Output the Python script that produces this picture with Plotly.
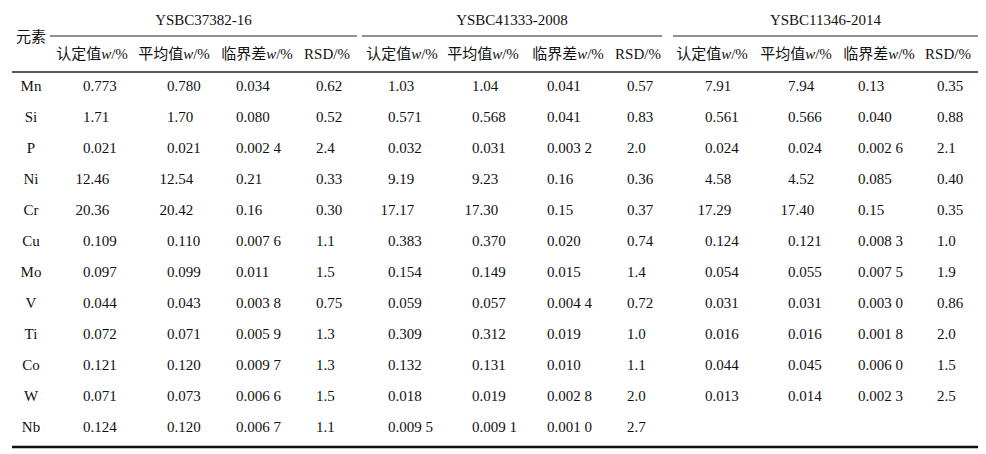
import plotly.graph_objects as go

# ---------------- data ----------------
elements = ["Mn", "Si", "P", "Ni", "Cr", "Cu", "Mo", "V", "Ti", "Co", "W", "Nb"]
groups = ["YSBC37382-16", "YSBC41333-2008", "YSBC11346-2014"]
sub_headers = ["认定值<i>w</i>/%", "平均值<i>w</i>/%", "临界差<i>w</i>/%", "RSD/%"]
corner_label = "元素"

g1_cert = ["0.773", "1.71", "0.021", "12.46", "20.36", "0.109", "0.097", "0.044", "0.072", "0.121", "0.071", "0.124"]
g1_mean = ["0.780", "1.70", "0.021", "12.54", "20.42", "0.110", "0.099", "0.043", "0.071", "0.120", "0.073", "0.120"]
g1_crit = ["0.034", "0.080", "0.002 4", "0.21", "0.16", "0.007 6", "0.011", "0.003 8", "0.005 9", "0.009 7", "0.006 6", "0.006 7"]
g1_rsd = ["0.62", "0.52", "2.4", "0.33", "0.30", "1.1", "1.5", "0.75", "1.3", "1.3", "1.5", "1.1"]

g2_cert = ["1.03", "0.571", "0.032", "9.19", "17.17", "0.383", "0.154", "0.059", "0.309", "0.132", "0.018", "0.009 5"]
g2_mean = ["1.04", "0.568", "0.031", "9.23", "17.30", "0.370", "0.149", "0.057", "0.312", "0.131", "0.019", "0.009 1"]
g2_crit = ["0.041", "0.041", "0.003 2", "0.16", "0.15", "0.020", "0.015", "0.004 4", "0.019", "0.010", "0.002 8", "0.001 0"]
g2_rsd = ["0.57", "0.83", "2.0", "0.36", "0.37", "0.74", "1.4", "0.72", "1.0", "1.1", "2.0", "2.7"]

g3_cert = ["7.91", "0.561", "0.024", "4.58", "17.29", "0.124", "0.054", "0.031", "0.016", "0.044", "0.013", ""]
g3_mean = ["7.94", "0.566", "0.024", "4.52", "17.40", "0.121", "0.055", "0.031", "0.016", "0.045", "0.014", ""]
g3_crit = ["0.13", "0.040", "0.002 6", "0.085", "0.15", "0.008 3", "0.007 5", "0.003 0", "0.001 8", "0.006 0", "0.002 3", ""]
g3_rsd = ["0.35", "0.88", "2.1", "0.40", "0.35", "1.0", "1.9", "0.86", "2.0", "1.5", "2.5", ""]

columns = [g1_cert, g1_mean, g1_crit, g1_rsd,
           g2_cert, g2_mean, g2_crit, g2_rsd,
           g3_cert, g3_mean, g3_crit, g3_rsd]

# ---------------- layout constants ----------------
W, H = 986, 454
PAGE_MARGIN = 8  # default body margin of the html page
FONT = "Liberation Serif, Times New Roman, Noto Sans CJK SC, serif"
FS = 15
DIGIT_W = 7.5
left_edge, right_edge = 12, 978
row0_y, row_h = 87, 31
elem_x = 31
col_anchor = [83, 167, 236, 316, 388, 472, 547, 627, 705, 788, 858, 937]
sub_x = [92, 174, 257, 327, 402, 483, 568, 638, 712, 796, 879, 948]
group_spans = [(50, 357), (362, 662), (673, 978)]
group_title_y, group_line_y = 21, 36
sub_y, sub_line_y = 55, 72
top_y, bottom_y = 4, 447
TXT = "#111"

fig = go.Figure()

row_ys = [row0_y + i * row_h for i in range(len(elements))]
fig.add_trace(go.Scatter(x=[elem_x] * len(elements), y=row_ys, text=elements,
                         mode="text", textposition="middle center",
                         textfont=dict(family=FONT, size=FS, color=TXT)))

for ci, col in enumerate(columns):
    xs = []
    for v in col:
        ip = v.split(".")[0] if v else "0"
        xs.append(col_anchor[ci] - (len(ip) - 1) * DIGIT_W)
    fig.add_trace(go.Scatter(x=xs, y=row_ys, text=col, mode="text",
                             textposition="middle right",
                             textfont=dict(family=FONT, size=FS, color=TXT)))

fig.add_trace(go.Scatter(x=[elem_x], y=[38], text=[corner_label], mode="text",
                         textposition="middle center",
                         textfont=dict(family=FONT, size=FS, color=TXT)))
fig.add_trace(go.Scatter(x=[(a + b) / 2 for a, b in group_spans], y=[group_title_y] * 3,
                         text=groups, mode="text", textposition="middle center",
                         textfont=dict(family=FONT, size=FS, color=TXT)))
fig.add_trace(go.Scatter(x=sub_x, y=[sub_y] * len(sub_x), text=sub_headers * 3,
                         mode="text", textposition="middle center",
                         textfont=dict(family=FONT, size=FS, color=TXT)))

shapes = [
    dict(type="line", x0=left_edge, x1=right_edge, y0=top_y, y1=top_y, line=dict(color="#111", width=2.2)),
    dict(type="line", x0=left_edge, x1=right_edge, y0=sub_line_y, y1=sub_line_y, line=dict(color="#222", width=1.3)),
    dict(type="line", x0=left_edge, x1=right_edge, y0=bottom_y, y1=bottom_y, line=dict(color="#111", width=2.5)),
]
for a, b in group_spans:
    shapes.append(dict(type="line", x0=a, x1=b, y0=group_line_y, y1=group_line_y,
                       line=dict(color="#222", width=1.2)))
for s in shapes:
    s.update(xref="x", yref="y")

fig.update_layout(
    width=W - PAGE_MARGIN, height=H - PAGE_MARGIN,
    margin=dict(l=0, r=0, t=0, b=0, pad=0),
    paper_bgcolor="white", plot_bgcolor="white", showlegend=False,
    shapes=shapes,
    xaxis=dict(range=[PAGE_MARGIN, W], visible=False, fixedrange=True),
    yaxis=dict(range=[H, PAGE_MARGIN], visible=False, fixedrange=True),
)

fig.write_html("out.html")
